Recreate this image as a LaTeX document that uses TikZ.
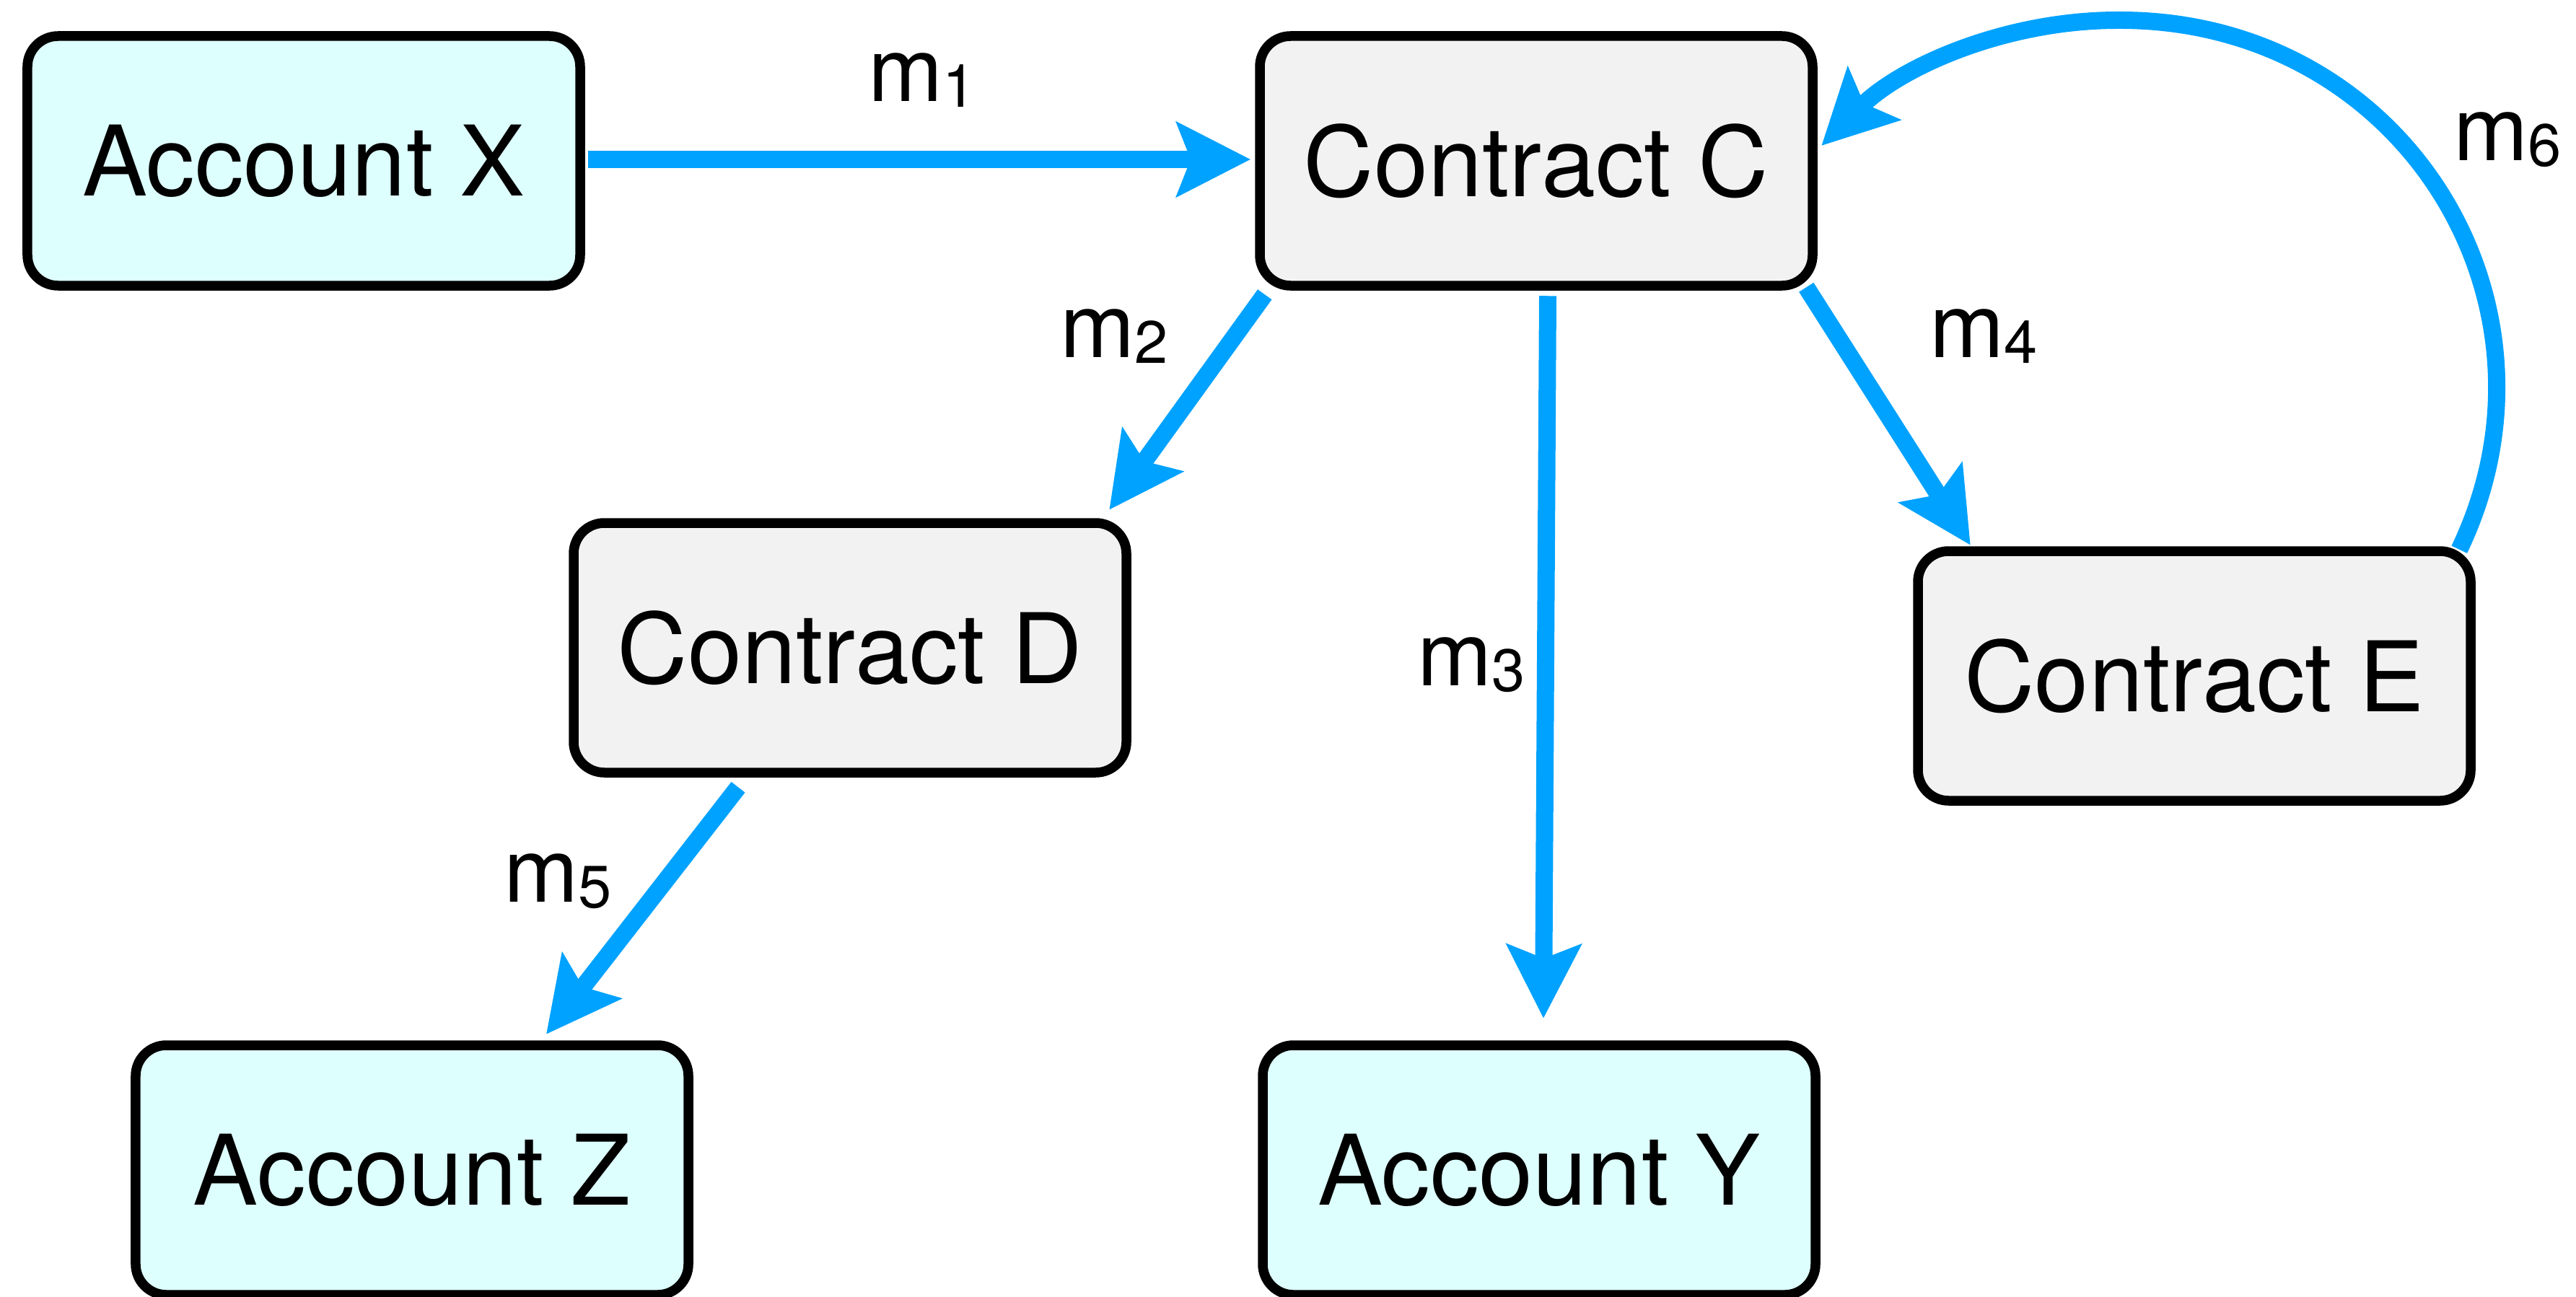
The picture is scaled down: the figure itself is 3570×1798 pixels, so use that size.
\documentclass[tikz,border=0pt]{standalone}
\usepackage{fontspec}
\setmainfont{TeX Gyre Heros}
\usetikzlibrary{arrows.meta,calc}
\definecolor{arrowblue}{RGB}{0,162,255}
\definecolor{acctfill}{RGB}{221,255,254}
\definecolor{ctrfill}{RGB}{242,242,242}
\newcommand\msub[1]{m\raisebox{-1.6pt}{\fontsize{16.6pt}{16.6pt}\selectfont #1}}
\begin{document}
\begin{tikzpicture}[x=0.2pt,y=-0.2pt,
  box/.style={rectangle, rounded corners=8.5pt, line width=2.7pt, draw=black,
    minimum width=153.2pt, minimum height=69.2pt, inner sep=0pt, outer sep=1.35pt,
    font=\fontsize{27pt}{27pt}\selectfont},
  acct/.style={box, fill=acctfill},
  ctr/.style={box, fill=ctrfill},
  flow/.style={draw=arrowblue, line width=4.8pt, line cap=butt,
    -{Stealth[length=20.4pt, width=20.4pt, inset=3.8pt]}},
  lbl/.style={anchor=base west, inner sep=0pt, font=\fontsize{24.8pt}{24.8pt}\selectfont}]
\useasboundingbox (0,0) rectangle (3570,1798);
\node[acct] (X) at (421,223) {Account X};
\node[ctr]  (C) at (2129,223) {Contract C};
\node[ctr]  (D) at (1178,898) {Contract D};
\node[ctr]  (E) at (3041,937) {Contract E};
\node[acct] (Z) at (571,1622) {Account Z};
\node[acct] (Y) at (2133,1622) {Account Y};

\draw[flow] ($(X.east)+(4,-2)$) -- ($(C.west)+(-6,-2)$);
\draw[flow] ($(C.south west)+(13.5,5.5)$) -- ($(D.north east)+(-30.5,-11.5)$);
\draw[flow] ($(C.south)+(16,7.5)$) -- ($(Y.north)+(6,-30.5)$);
\draw[flow] ($(C.south east)+(-15.5,-4.5)$) -- ($(E.north west)+(79.5,-1.5)$);
\draw[flow] ($(D.south)+(-155,13.5)$) -- ($(Z.north)+(186,-8.5)$);
\draw[flow] ($(E.north east)+(-22.5,4.5)$) .. controls (3572,420) and (3330,26) .. (2935,28)
  .. controls (2780,28) and (2635,92) .. ($(C.east)+(5.5,-21)$);

\node[lbl] (l1) at (1202,141) {\msub{1}};
\node[lbl] (l2) at (1468,495) {\msub{2}};
\node[lbl] (l3) at (1963,950) {\msub{3}};
\node[lbl] (l4) at (2673,495) {\msub{4}};
\node[lbl] (l5) at (697,1250) {\msub{5}};
\node[lbl] (l6) at (3399,223) {\msub{6}};
\end{tikzpicture}
\end{document}
